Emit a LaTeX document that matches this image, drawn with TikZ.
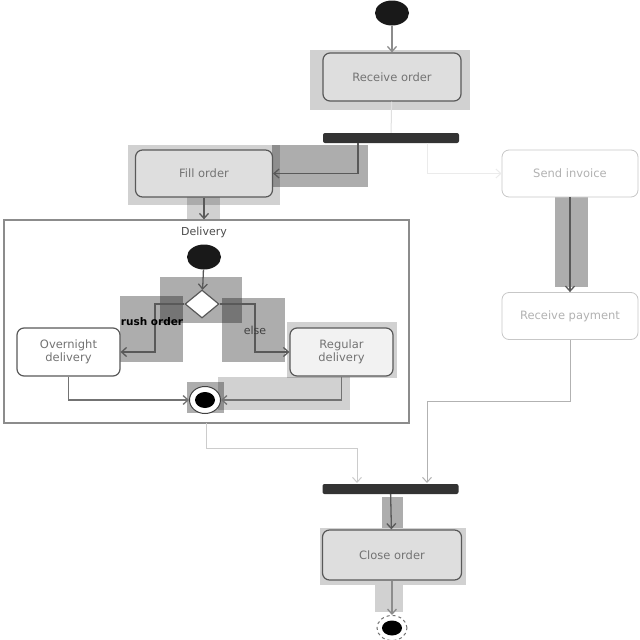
\documentclass[tikz,border=0pt]{standalone}
\usepackage{fontspec}
\setmainfont{DejaVu Sans}
\usetikzlibrary{shapes.geometric,arrows.meta}
\begin{document}
\begin{tikzpicture}[x=1pt,y=-1pt,
  act/.style={draw=black!65, line width=1.2pt, rounded corners=7pt, align=center,
    font=\fontsize{11.5}{13}\selectfont, text=black!55, inner sep=2pt},
  faint/.style={draw=black!22, line width=0.8pt, rounded corners=7pt, align=center,
    font=\fontsize{11.5}{13}\selectfont, text=black!30, inner sep=2pt},
  startnode/.style={ellipse, fill=black!90, draw=none, minimum width=34pt, minimum height=25pt, inner sep=0pt},
  barnode/.style={rectangle, fill=black!80, rounded corners=2pt, minimum width=136pt, minimum height=10pt, inner sep=0pt},
  flow/.style={draw=black!65, line width=1.3pt, -{Straight Barb[length=5pt,width=9pt]}},
  faintflow/.style={draw=black!20, line width=1pt, -{Straight Barb[length=5pt,width=9pt]}},
  hl/.style={fill=black, opacity=0.18, draw=none},
  hld/.style={fill=black, opacity=0.32, draw=none},
  lbl/.style={font=\fontsize{11}{13}\selectfont, inner sep=1pt}
]
\useasboundingbox (0,0) rectangle (640,640);

% highlight rectangles
\fill[hl] (310,50) rectangle (470,110);
\fill[hl] (128,145) rectangle (280,205);
\fill[hld] (272,145) rectangle (368,187);
\fill[hl] (187,197) rectangle (220,221);
\fill[hld] (160,277) rectangle (242,323);
\fill[hld] (120,296) rectangle (183,362);
\fill[hld] (222,298) rectangle (285,362);
\fill[hl] (287,322) rectangle (397,378);
\fill[hl] (218,377) rectangle (350,410);
\fill[hld] (187,382) rectangle (224,413);
\fill[hld] (555,197) rectangle (588,287);
\fill[hld] (382,497) rectangle (403,528);
\fill[hl] (320,528) rectangle (466,585);
\fill[hl] (375,585) rectangle (403,612);

% delivery frame
\node[draw=black!45, line width=1.3pt, minimum width=405pt, minimum height=203pt, inner sep=0pt] (frame) at (206.5,321.5) {};
\node[lbl, text=black!70] (dlab) at (204,232) {Delivery};

% main nodes
\node[startnode] (start) at (392,13) {};
\node[act, fill=black!13, minimum width=138pt, minimum height=48pt] (recv) at (392,77) {Receive order};
\node[barnode] (bar1) at (391,138) {};
\node[act, fill=black!13, minimum width=137pt, minimum height=47pt] (fill) at (204,173.5) {Fill order};
\node[faint, fill=white, minimum width=136pt, minimum height=47pt] (inv) at (570,173.5) {Send invoice};
\node[faint, fill=white, minimum width=136pt, minimum height=47pt] (pay) at (570,316) {Receive payment};

\node[startnode] (istart) at (204,257) {};
\node[diamond, draw=black!65, line width=1.2pt, fill=white, minimum width=34pt, minimum height=28pt, aspect=1.2, inner sep=0pt] (dec) at (202,304) {};
\node[act, fill=white, minimum width=103pt, minimum height=48pt] (over) at (68.5,352) {Overnight\\delivery};
\node[act, fill=black!5, minimum width=103pt, minimum height=48pt] (reg) at (341.5,352) {Regular\\delivery};
\node[ellipse, draw=black!75, line width=1pt, fill=white, minimum width=31pt, minimum height=27pt, inner sep=0pt] (ifin) at (205,400) {};
\node[ellipse, fill=black, minimum width=20pt, minimum height=16pt, inner sep=0pt] (ifinc) at (205,400) {};

\node[barnode] (bar2) at (390.5,489) {};
\node[act, fill=black!13, minimum width=139pt, minimum height=50pt] (close) at (392,555) {Close order};
\node[ellipse, draw=black!55, line width=1pt, dashed, fill=white, minimum width=30pt, minimum height=25pt, inner sep=0pt] (fin) at (392,628) {};
\node[ellipse, fill=black, minimum width=20pt, minimum height=15pt, inner sep=0pt] (finc) at (392,628) {};

\coordinate (b1l) at (358,143);
\coordinate (b1r) at (427,143);
\coordinate (b2l) at (357,483);
\coordinate (b2r) at (427,483);

% connectors
\draw[flow, draw=black!45] (start) -- (recv);
\draw[draw=black!12, line width=1pt] (recv) -- (bar1);
\draw[flow] (b1l) |- (fill.east);
\draw[faintflow, draw=black!8] (b1r) |- (inv.west);
\draw[flow] (fill.south) -- (fill.south |- frame.north);
\draw[flow] (istart) -- (dec);
\draw[flow] (dec.west) -| (155,352) -- (over.east);
\draw[flow] (dec.east) -| (255,352) -- (reg.west);
\node[lbl, text=black, font=\bfseries\fontsize{10.5}{12}\selectfont] (rush) at (152,322) {rush order};
\node[lbl, text=black!75] (else) at (255,330) {else};
\draw[flow, draw=black!55] (over.south) |- (ifin.west);
\draw[flow, draw=black!55] (reg.south) |- (ifin.east);
\draw[flow] (inv) -- (pay);
\draw[faintflow] (206,423) |- (357,448) -- (b2l);
\draw[faintflow, draw=black!30] (pay.south) |- (427,401) -- (b2r);
\draw[flow] (bar2) -- (close);
\draw[flow, draw=black!45] (close) -- (fin);
\end{tikzpicture}
\end{document}
